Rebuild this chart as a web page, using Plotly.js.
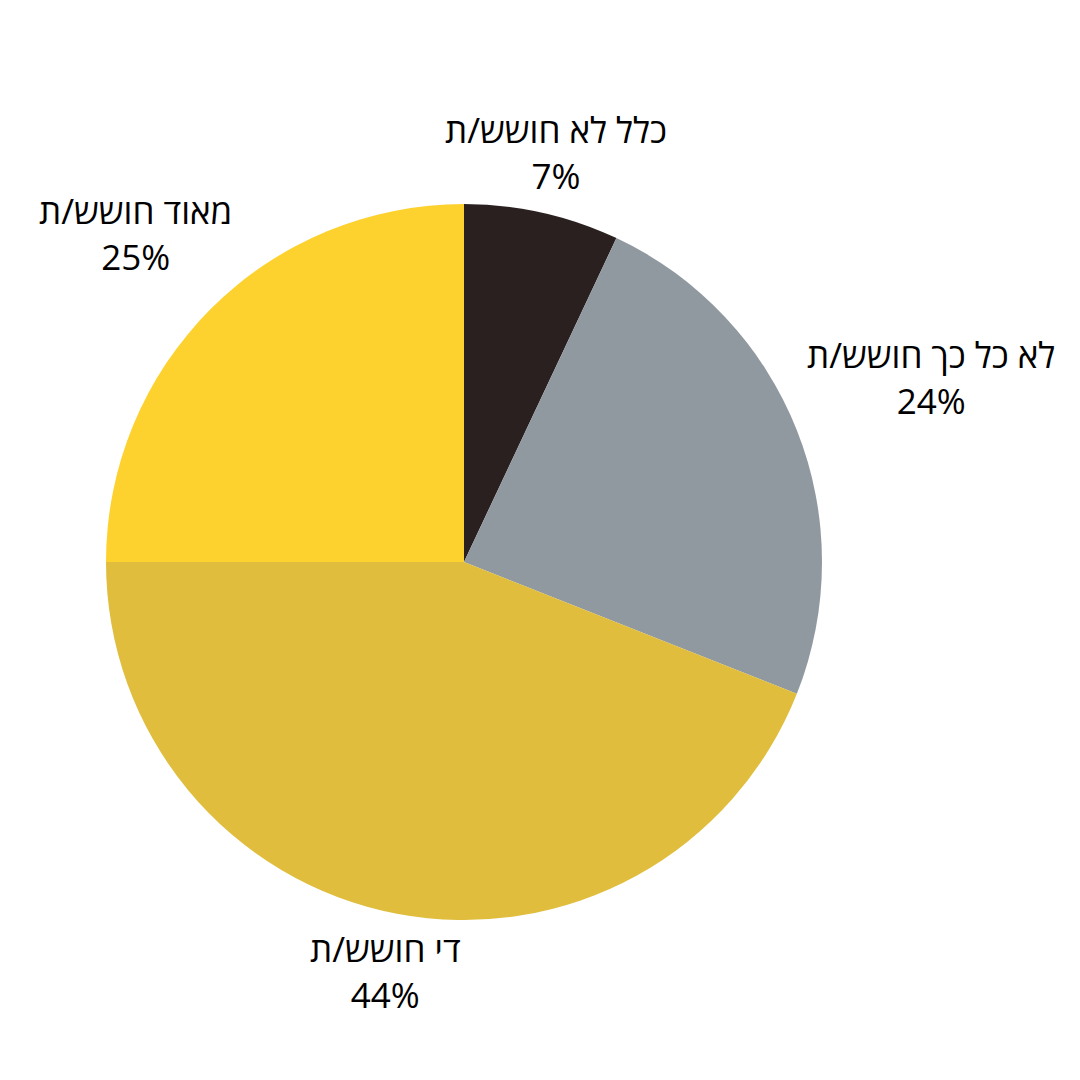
<!DOCTYPE html>
<html>
<head>
<meta charset="utf-8">
<script src="https://cdn.plot.ly/plotly-3.0.1.min.js"></script>
<style>
  html, body { margin: 0; padding: 0; background: #fff; }
  #chart { width: 1080px; height: 1080px; }
</style>
</head>
<body>
<div id="chart"></div>
<script>
// answers, clockwise from 12 o'clock
var labels = ["כלל לא חושש/ת", "לא כל כך חושש/ת", "די חושש/ת", "מאוד חושש/ת"];
var values = [7, 24, 44, 25];
var colors = ["#2a2020", "#9099a0", "#e0bd3c", "#fdd12e"];

var fontFamily = "Open Sans, DejaVu Sans, sans-serif";
var fontSize = 35;
var margin = { l: 106, r: 258, t: 204, b: 160 };
var W = 1080, H = 1080;

// labels sit outside the pie on each slice's middle angle,
// the nearest edge of the text block a fixed gap from the rim
function labelAnnotations() {
  var total = values.reduce(function (a, b) { return a + b; }, 0);
  var pw = W - margin.l - margin.r;
  var ph = H - margin.t - margin.b;
  var R = Math.min(pw, ph) / 2;
  var gap = 16;
  var ctx = document.createElement("canvas").getContext("2d");
  ctx.font = fontSize + "px " + fontFamily;

  var anns = [];
  var cum = 0;
  for (var i = 0; i < values.length; i++) {
    var mid = (cum + values[i] / 2) / total * 2 * Math.PI;
    cum += values[i];
    var pct = Math.round(values[i] / total * 100) + "%";
    var a = Math.max(ctx.measureText(labels[i]).width, ctx.measureText(pct).width) / 2;
    var b = (fontSize * 1.3 + fontSize * 0.72) / 2;
    var ux = Math.sin(mid), uy = Math.cos(mid);
    // find the distance where the text box clears the rim by the gap
    var lo = 0, hi = 3 * R;
    for (var k = 0; k < 60; k++) {
      var d = (lo + hi) / 2;
      var dx = Math.max(Math.abs(d * ux) - a, 0);
      var dy = Math.max(Math.abs(d * uy) - b, 0);
      if (Math.sqrt(dx * dx + dy * dy) < R + gap) lo = d; else hi = d;
    }
    anns.push({
      xref: "paper", yref: "paper",
      x: 0.5 + lo * ux / pw,
      y: 0.5 + lo * uy / ph,
      xanchor: "center", yanchor: "middle",
      text: labels[i] + "<br>" + pct,
      showarrow: false,
      font: { family: fontFamily, size: fontSize, color: "#000" }
    });
  }
  return anns;
}

var data = [
  {
    type: "pie",
    labels: labels,
    values: values,
    sort: false,
    direction: "clockwise",
    rotation: 0,
    marker: { colors: colors, line: { width: 0 } },
    textinfo: "none",
    automargin: false,
    hoverinfo: "none"
  }
];

var layout = {
  width: W,
  height: H,
  showlegend: false,
  margin: margin,
  paper_bgcolor: "#fff",
  plot_bgcolor: "#fff",
  annotations: labelAnnotations()
};

Plotly.newPlot("chart", data, layout, { displayModeBar: false });
</script>
</body>
</html>
